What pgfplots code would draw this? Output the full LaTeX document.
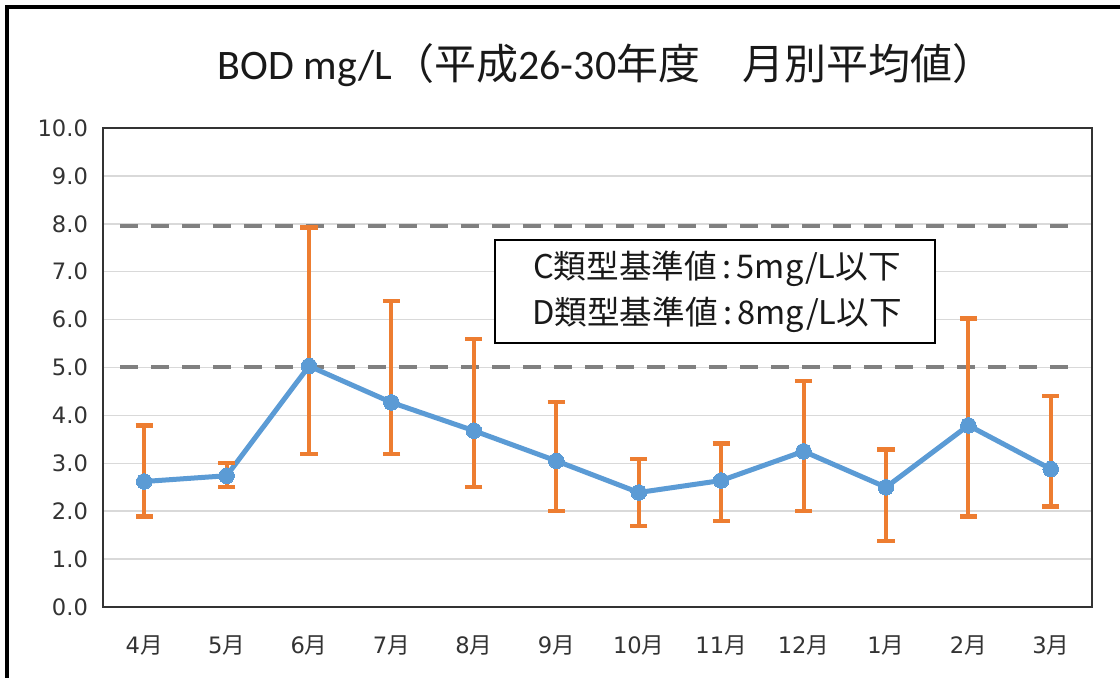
\documentclass[border=0pt]{standalone}
\usepackage{fontspec}
\setmainfont{Carlito}
\newfontfamily\cjk{Noto Sans CJK JP}
\newfontfamily\dv{DejaVu Sans}
\usepackage{pgfplots}
\pgfplotsset{compat=1.18}
\usepackage{pgfplotstable}
\definecolor{exblue}{HTML}{5B9BD5}
\definecolor{exorange}{HTML}{ED7D31}
\definecolor{gridgray}{HTML}{D9D9D9}
\definecolor{dashgray}{HTML}{808080}
\pgfplotstableread{
x y hi lo
0 2.62 3.79 1.89
1 2.74 3.01 2.50
2 5.03 7.92 3.19
3 4.27 6.39 3.19
4 3.68 5.59 2.51
5 3.05 4.28 2.01
6 2.39 3.09 1.69
7 2.64 3.41 1.79
8 3.25 4.72 2.01
9 2.50 3.29 1.38
10 3.79 6.02 1.89
11 2.88 4.41 2.10
}\bod
\newcommand{\mo}[1]{{\dv #1}{\cjk 月}}
\begin{document}
\begin{tikzpicture}
\path[use as bounding box, fill=white] (0,0) rectangle (560pt,339pt);
\clip (0,0) rectangle (560pt,339pt);
\begin{axis}[
  at={(51.5pt,35.5pt)}, anchor=south west,
  scale only axis, width=494.5pt, height=239.5pt,
  xmin=-0.5, xmax=11.5, ymin=0, ymax=10,
  xtick={0,...,11},
  xticklabels={\mo{4},\mo{5},\mo{6},\mo{7},\mo{8},\mo{9},\mo{10},\mo{11},\mo{12},\mo{1},\mo{2},\mo{3}},
  ytick={0,1,...,10},
  yticklabel={\pgfmathprintnumber[fixed,fixed zerofill,precision=1,assume math mode=true]{\tick}},
  tick label style={font=\dv\fontsize{11.3}{13}\selectfont, text=black!80},
  yticklabel style={xshift=-4pt},
  xticklabel style={yshift=-11pt},
  major tick length=0pt,
  ymajorgrids, grid style={gridgray, line width=0.75pt},
  axis line style={black!80, line width=0.9pt},
  axis background/.style={fill=white},
  clip=false,
]
\addplot[dashgray, line width=2pt, dash pattern=on 9pt off 6.5pt, forget plot] coordinates {(-0.29,7.95) (11.33,7.95)};
\addplot[dashgray, line width=2pt, dash pattern=on 9pt off 6.5pt, forget plot] coordinates {(-0.29,5) (11.33,5)};
\addplot[exblue, line width=2.5pt, mark=*, mark size=3.9pt, mark options={fill=exblue, draw=exblue, line width=0pt}] table[x=x, y=y] {\bod};
\addplot[draw=none, mark=none,
  error bars/.cd, y dir=both, y explicit,
  error bar style={draw=exorange, line width=2pt},
  error mark options={rotate=90, mark size=4.3pt, draw=exorange, line width=2.2pt}]
  table[x=x, y=y, y error plus expr={\thisrow{hi}-\thisrow{y}}, y error minus expr={\thisrow{y}-\thisrow{lo}}] {\bod};
\end{axis}
\draw[black, line width=1.6pt] (3.5pt,-5pt) -- (3.5pt,335.5pt) -- (570pt,335.5pt);
\node[font=\fontsize{21}{24}\selectfont, text=black!90] at (303pt,306.5pt)
  {BOD mg/L{\cjk （平成}26-30{\cjk 年度　月別平均値）}};
\draw[black, line width=1pt, fill=white] (247.5pt,167.5pt) rectangle (467.5pt,219pt);
\node[font=\cjk\fontsize{16.3}{23}\selectfont, text=black!90, align=center] at (358.5pt,193pt)
  {C類型基準値\,:\,5mg/L以下\\D類型基準値\,:\,8mg/L以下};
\end{tikzpicture}
\end{document}
